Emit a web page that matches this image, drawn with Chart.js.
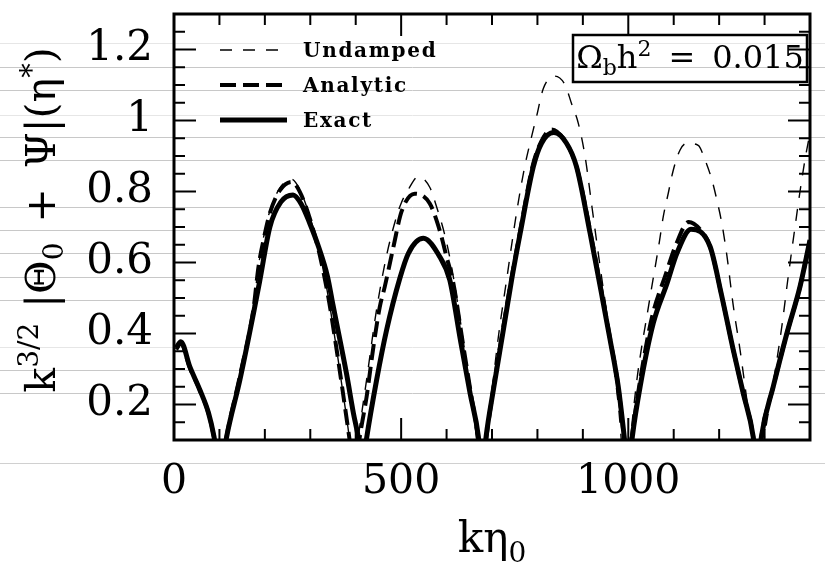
<!DOCTYPE html>
<html>
<head>
<meta charset="utf-8">
<script src="https://cdn.jsdelivr.net/npm/chart.js@4.4.1/dist/chart.umd.min.js"></script>
<style>
html,body{margin:0;padding:0;background:#fff;}
#wrap{width:825px;height:580px;position:relative;}
</style>
</head>
<body>
<div id="wrap"><canvas id="c" width="825" height="580"></canvas></div>
<script>
// ---------- data ----------
const xTickLabels = [0, 500, 1000];
const yTickLabels = [0.2, 0.4, 0.6, 0.8, 1, 1.2];
const seriesNames = ['Undamped', 'Analytic', 'Exact'];

const exactK = [5,15,35,57,76,88,102,116,145,175,189,211,235,262,280,299,318,338,350,380,395,406,415,424,446,468,497,516,549,585,607,630,652,670,678,687,703,725,743,762,791,809,836,864,886,916,941,960,978,991,1000,1009,1026,1055,1085,1107,1138,1180,1205,1231,1253,1275,1284,1293,1319,1349,1378,1400];
const exactV = [0.36,0.377,0.306,0.241,0.176,0.11,0.0,0.11,0.269,0.457,0.55,0.70,0.77,0.79,0.765,0.71,0.645,0.56,0.48,0.285,0.175,0.105,0.02,0.105,0.269,0.41,0.555,0.626,0.668,0.616,0.551,0.385,0.23,0.11,0.0,0.11,0.241,0.41,0.55,0.682,0.87,0.936,0.966,0.936,0.87,0.682,0.513,0.382,0.25,0.11,0.0,0.11,0.25,0.429,0.54,0.626,0.694,0.645,0.51,0.354,0.232,0.109,0.0,0.109,0.25,0.40,0.532,0.663];

const analyticK = [5,15,35,57,76,88,102,116,145,175,186,197,211,233,259,277,300,321,340,355,370,385,398,409,424,439,453,464,483,501,530,563,585,600,615,635,655,668,678,688,703,725,745,765,789,808,831,862,886,916,941,960,978,990,998,1008,1025,1052,1082,1105,1133,1160,1180,1205,1231,1253,1275,1284,1293,1319,1349,1378,1400];
const analyticV = [0.355,0.372,0.303,0.24,0.175,0.108,0.0,0.112,0.28,0.47,0.588,0.663,0.739,0.803,0.827,0.799,0.72,0.62,0.50,0.38,0.25,0.115,0.0,0.109,0.222,0.363,0.475,0.532,0.644,0.744,0.794,0.766,0.69,0.616,0.541,0.38,0.22,0.12,0.0,0.11,0.245,0.42,0.57,0.71,0.87,0.94,0.975,0.94,0.87,0.69,0.52,0.385,0.25,0.11,0.0,0.11,0.26,0.445,0.565,0.65,0.714,0.69,0.645,0.51,0.354,0.232,0.109,0.0,0.109,0.25,0.40,0.532,0.663];

const undampedK = [5,15,35,57,76,88,102,116,145,175,186,197,211,233,258,277,300,321,340,355,370,385,395,407,424,445,468,490,501,516,538,563,578,597,611,625,640,660,678,690,700,715,732,754,772,787,798,813,838,861,875,890,905,920,938,960,978,994,1004,1020,1045,1069,1077,1088,1099,1114,1129,1154,1169,1184,1195,1206,1217,1231,1246,1261,1272,1288,1301,1319,1338,1352,1367,1378,1389,1400];
const undampedV = [0.36,0.378,0.307,0.242,0.177,0.11,0.0,0.113,0.29,0.48,0.59,0.67,0.745,0.81,0.835,0.805,0.725,0.625,0.50,0.38,0.25,0.115,0.0,0.12,0.27,0.46,0.62,0.73,0.77,0.806,0.842,0.812,0.757,0.673,0.588,0.48,0.35,0.17,0.0,0.13,0.24,0.40,0.55,0.74,0.87,0.954,1.011,1.09,1.125,1.1,1.048,0.992,0.898,0.757,0.588,0.39,0.2,0.0,0.1,0.28,0.48,0.663,0.729,0.795,0.86,0.917,0.936,0.93,0.889,0.833,0.776,0.71,0.62,0.479,0.354,0.213,0.109,0.0,0.12,0.26,0.42,0.56,0.70,0.80,0.89,0.965];

// ---------- helpers ----------
const FONT = "'DejaVu Serif', 'Liberation Serif', serif";
const pts = (ks, vs) => ks.map((k, i) => ({x: k, y: vs[i]}));

// faint horizontal scan lines of the original scan (decoration only)
const scanLines = [[43,'#e6e6e6'],[67,'#c8c8c8'],[90,'#c8c8c8'],[115,'#e6e6e6'],[137,'#c8c8c8'],[160,'#c8c8c8'],[207,'#c8c8c8'],[230,'#c8c8c8'],[253,'#c8c8c8'],[277,'#c8c8c8'],[300,'#c8c8c8'],[347,'#e6e6e6'],[370,'#c8c8c8'],[393,'#c8c8c8'],[463,'#d0d0d0']];

function drawRuns(ctx, runs, x, y, center) {
  let w = 0;
  runs.forEach(r => { ctx.font = `${r.b||''} ${r.s}px ${FONT}`; w += (r.pre||0) + ctx.measureText(r.t).width; });
  let cx = center ? x - w / 2 : x;
  ctx.textAlign = 'left';
  ctx.textBaseline = 'alphabetic';
  runs.forEach(r => {
    ctx.font = `${r.b||''} ${r.s}px ${FONT}`;
    cx += r.pre || 0;
    ctx.fillText(r.t, cx, y + (r.dy || 0));
    cx += ctx.measureText(r.t).width;
  });
  return w;
}

const deco = {
  id: 'deco',
  beforeDraw(chart) {
    const ctx = chart.ctx;
    ctx.save();
    ctx.lineWidth = 1;
    scanLines.forEach(([yy, col]) => {
      ctx.strokeStyle = col;
      ctx.beginPath(); ctx.moveTo(0, yy + 0.5); ctx.lineTo(chart.width, yy + 0.5); ctx.stroke();
    });
    ctx.restore();
  },
  afterDraw(chart) {
    const {ctx, chartArea: a, scales: {x, y}} = chart;
    ctx.save();
    ctx.strokeStyle = '#000';
    ctx.fillStyle = '#000';
    // inward ticks
    ctx.lineWidth = 2;
    const seg = (x1, y1, x2, y2) => { ctx.beginPath(); ctx.moveTo(x1, y1); ctx.lineTo(x2, y2); ctx.stroke(); };
    for (let i = 0; i <= 14; i++) {
      const v = i * 100;
      const px = x.getPixelForValue(v);
      const len = xTickLabels.includes(v) ? 22 : 11;
      seg(px, a.bottom, px, a.bottom - len);
      seg(px, a.top, px, a.top + len);
    }
    for (let i = 0; i <= 24; i++) {
      const v = 0.1 + i * 0.05;
      const py = y.getPixelForValue(v);
      const major = yTickLabels.some(t => Math.abs(t - v) < 1e-6);
      const len = major ? 22 : 11;
      seg(a.left, py, a.left + len, py);
      seg(a.right, py, a.right - len, py);
    }
    // frame
    ctx.lineWidth = 3;
    ctx.strokeRect(a.left, a.top, a.right - a.left, a.bottom - a.top);

    // legend
    const ds = chart.data.datasets;
    const order = [2, 1, 0];
    order.forEach((di, row) => {
      const d = ds[di];
      const ly = a.top + 36 + row * 35;
      ctx.save();
      ctx.lineWidth = d.borderWidth;
      ctx.setLineDash(d.borderDash || []);
      ctx.lineCap = 'butt';
      seg(a.left + 46, ly, a.left + 113, ly);
      ctx.restore();
      ctx.save();
      ctx.font = `bold 20px ${FONT}`;
      ctx.letterSpacing = '1.7px';
      ctx.textAlign = 'left';
      ctx.textBaseline = 'alphabetic';
      ctx.fillText(d.label, a.left + 129, ly + 7);
      ctx.restore();
    });

    // parameter box
    ctx.lineWidth = 2.5;
    ctx.strokeRect(a.right - 237, a.top + 21, 234, 47);
    drawRuns(ctx, [
      {t: 'Ω', s: 32},
      {t: 'b', s: 22, dy: 7},
      {t: 'h', s: 32},
      {t: '2', s: 22, dy: -12},
      {t: '=', s: 32, pre: 17},
      {t: '0.015', s: 32, pre: 17}
    ], a.right - 120, a.top + 54, true);

    // x title
    drawRuns(ctx, [
      {t: 'kη', s: 42},
      {t: '0', s: 28, dy: 10}
    ], (a.left + a.right) / 2, 552, true);

    // y title (rotated)
    ctx.save();
    ctx.translate(55, 220);
    ctx.rotate(-Math.PI / 2);
    drawRuns(ctx, [
      {t: 'k', s: 41},
      {t: '3/2', s: 28, dy: -17},
      {t: '|Θ', s: 41, pre: 15},
      {t: '0', s: 28, dy: 8},
      {t: '+', s: 41, pre: 20},
      {t: 'Ψ|(η', s: 41, pre: 20},
      {t: '*', s: 29, dy: -14},
      {t: ')', s: 41}
    ], 0, 0, true);
    ctx.restore();
    ctx.restore();
  }
};

const noPad = s => { s.paddingTop = 0; s.paddingBottom = 0; s.paddingLeft = 0; s.paddingRight = 0; };

new Chart(document.getElementById('c'), {
  type: 'line',
  data: {
    datasets: [
      {label: seriesNames[2], data: pts(exactK, exactV), borderColor: '#000', borderWidth: 5, borderDash: [], pointRadius: 0, cubicInterpolationMode: 'monotone', clip: 0, fill: false},
      {label: seriesNames[1], data: pts(analyticK, analyticV), borderColor: '#000', borderWidth: 4, borderDash: [16, 7], pointRadius: 0, cubicInterpolationMode: 'monotone', clip: 0, fill: false},
      {label: seriesNames[0], data: pts(undampedK, undampedV), borderColor: '#000', borderWidth: 1.4, borderDash: [12, 11], pointRadius: 0, cubicInterpolationMode: 'monotone', clip: 0, fill: false}
    ]
  },
  options: {
    responsive: false,
    animation: false,
    devicePixelRatio: 1,
    layout: {padding: {top: 14, right: 15, left: 0, bottom: 0}},
    plugins: {legend: {display: false}, tooltip: {enabled: false}, title: {display: false}},
    scales: {
      x: {
        type: 'linear', min: 0, max: 1400,
        afterBuildTicks: s => { s.ticks = xTickLabels.map(v => ({value: v})); },
        afterFit: s => { s.height = 140; noPad(s); },
        ticks: {autoSkip: false, maxRotation: 0, padding: 18, color: '#000', font: {family: FONT, size: 41}, callback: v => String(v)},
        grid: {display: false, drawTicks: false},
        border: {display: false}
      },
      y: {
        type: 'linear', min: 0.1, max: 1.3,
        afterBuildTicks: s => { s.ticks = yTickLabels.map(v => ({value: v})); },
        afterFit: s => { s.width = 174; noPad(s); },
        ticks: {autoSkip: false, padding: 21, color: '#000', font: {family: FONT, size: 42}, callback: v => String(Math.round(v * 10) / 10)},
        grid: {display: false, drawTicks: false},
        border: {display: false}
      }
    }
  },
  plugins: [deco]
});
</script>
</body>
</html>
